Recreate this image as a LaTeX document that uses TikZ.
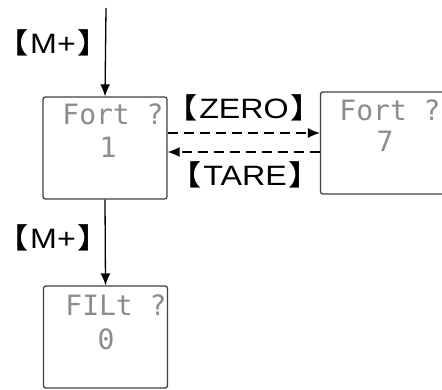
\documentclass[tikz,border=0pt]{standalone}
\usepackage{fontspec}
\setmainfont{Liberation Sans}
\newfontfamily\cjk{Noto Sans CJK SC Bold}
\newfontfamily\lcdfont{DejaVu Sans Mono}
\usetikzlibrary{positioning}
\usetikzlibrary{arrows.meta}
\tikzset{>={Latex[length=6pt,width=5pt]}}
\tikzstyle{panel}=[draw=black!75,line width=0.65pt,rounded corners=1.2pt,minimum width=62pt,minimum height=51pt,inner sep=0pt]
\tikzstyle{lcd}=[text=black!45,font=\lcdfont\fontsize{14}{14}\selectfont,inner sep=0pt]
\tikzstyle{key}=[font=\fontsize{14}{14}\selectfont,inner sep=1pt]
\tikzstyle{flow}=[line width=0.65pt]
\newcommand\keycap[1]{\scalebox{1.15}[1]{{\cjk\hspace{-0.4em}【}\hspace{0.06em}#1\hspace{0.06em}{\cjk 】\hspace{-0.4em}}}}

\begin{document}
\begin{tikzpicture}[x=0.5pt,y=-0.5pt]
  \useasboundingbox (0,0) rectangle (442,389);
  % PANELS
  \node[panel] (fort1) at (105,148) {};
  \node[panel] (fort7) at (382.5,143) {};
  \node[panel] (filt) at (105.5,337) {};

  % DISPLAY
  \node[lcd] (fort1top) at (113,114) {Fort ?};
  \node[lcd] (fort1val) at (108,147) {1};
  \node[lcd] (fort7top) at (390,110) {Fort ?};
  \node[lcd] (fort7val) at (385,141) {7};
  \node[lcd] (filttop) at (116,305) {FILt ?};
  \node[lcd] (filtval) at (106,339) {0};

  % KEYS
  \coordinate (entry) at (106,8);
  \draw[flow,->] (entry) -- (fort1.north);
  \node[key] (mplusA) at (53,43) {\keycap{M+}};
  \draw[flow,->] (fort1.south) -- (filt.north);
  \node[key] (mplusB) at (53,238) {\keycap{M+}};

  \draw[flow,dashed,dash pattern=on 5pt off 3pt,->]
    (fort1.east |- 0,133) -- (fort7.west |- 0,133);
  \node[key] (zero) at (244,108) {\keycap{ZERO}};
  \draw[flow,dashed,dash pattern=on 5pt off 3pt,->]
    (fort7.west |- 0,152) -- (fort1.east |- 0,152);
  \node[key] (tare) at (245,175) {\keycap{TARE}};
\end{tikzpicture}
\end{document}
